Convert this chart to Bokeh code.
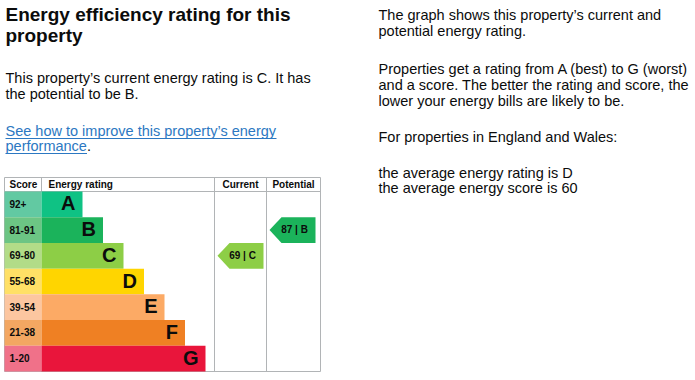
from bokeh.plotting import figure
from bokeh.models import Range1d
from bokeh.core.properties import value
from bokeh.embed import file_html
from bokeh.resources import INLINE

# ---------------- data ----------------
bands = ["A", "B", "C", "D", "E", "F", "G"]
score_ranges = ["92+", "81-91", "69-80", "55-68", "39-54", "21-38", "1-20"]
band_min = [92, 81, 69, 55, 39, 21, 1]
band_colors = ["#0fc284", "#1bb35b", "#8dce46", "#ffd500", "#fcaa65", "#ef8023", "#e9153b"]
score_colors = ["#62c9a2", "#6cc584", "#b2dc88", "#ffe066", "#fcc6a0", "#f3a762", "#f07189"]
current_score = 69
potential_score = 87
column_headers = ["Score", "Energy rating", "Current", "Potential"]

title_lines = ["Energy efficiency rating for this", "property"]
summary_lines = ["This property\u2019s current energy rating is C. It has", "the potential to be B."]
link_lines = ["See how to improve this property\u2019s energy", "performance"]
right_lines = [
    "The graph shows this property\u2019s current and",
    "potential energy rating.",
    "Properties get a rating from A (best) to G (worst)",
    "and a score. The better the rating and score, the",
    "lower your energy bills are likely to be.",
    "For properties in England and Wales:",
    "the average energy rating is D",
    "the average energy score is 60",
]

# ---------------- layout ----------------
W, H = 695, 380
FONT = value("Liberation Sans")
INK = "#0b0c0c"
LINK = "#2c78c2"
GRID = "#b1b4b6"
BASE_FIX = 0.4  # renderer draws alphabetic text slightly low; compensate in em

p = figure(width=W, height=H, x_range=Range1d(0, W), y_range=Range1d(H, 0),
           output_backend="svg", toolbar_location=None, min_border=0,
           x_axis_location=None, y_axis_location=None)
p.xgrid.visible = False
p.ygrid.visible = False
p.outline_line_color = None
p.background_fill_color = "white"
p.border_fill_color = "white"

def txt(xs, ys, texts, size, bold=False, color=INK, align="left"):
    ys = [y - BASE_FIX * size for y in ys]
    p.text(x=xs, y=ys, text=texts, text_font=FONT, text_font_size=value(f"{size}px"),
           text_font_style="bold" if bold else "normal", text_color=color,
           text_align=align, text_baseline="alphabetic")

# left text block
LX = 5
txt([LX] * 2, [22, 43], title_lines, 19, bold=True)
txt([LX] * 2, [83, 99], summary_lines, 14.5)
txt([LX] * 2, [136, 151], link_lines, 14.5, color=LINK)
p.segment(x0=[LX, LX], y0=[138, 153], x1=[276, 86.5], y1=[138, 153], line_color=LINK, line_width=1)
txt([86.5], [151], ["."], 14.5)

# right text block
RX = 378
txt([RX] * len(right_lines), [20, 36, 74, 90, 106, 142, 178, 193], right_lines, 14.5)

# chart geometry
CL, CR = 4, 320
SCORE_R = 41
CUR_L, POT_L = 214, 266
TOP, HDR = 177, 191
BOT = 371
ROW_H = (BOT - HDR) / len(bands)
BAR_BASE, BAR_STEP = 41, 20.5

# grid lines
p.segment(x0=[CL, CL, CL], y0=[TOP, HDR, BOT], x1=[CR, CR, CR], y1=[TOP, HDR, BOT],
          line_color=GRID, line_width=1)
p.segment(x0=[CL, SCORE_R, CUR_L, POT_L, CR], y0=[TOP] * 5,
          x1=[CL, SCORE_R, CUR_L, POT_L, CR], y1=[BOT, HDR, BOT, BOT, BOT],
          line_color=GRID, line_width=1)

# header texts
txt([CL + 5, SCORE_R + 7], [188, 188], column_headers[:2], 10, bold=True)
txt([(CUR_L + POT_L) / 2, (POT_L + CR) / 2], [188, 188], column_headers[2:], 10, bold=True, align="center")

tops = [HDR + i * ROW_H for i in range(len(bands))]
bottoms = [t + ROW_H for t in tops]
mids = [t + ROW_H / 2 for t in tops]
bar_right = [SCORE_R + BAR_BASE + BAR_STEP * i for i in range(len(bands))]

p.quad(left=[CL] * len(bands), right=[SCORE_R] * len(bands), top=tops, bottom=bottoms,
       fill_color=score_colors, line_color=None)
p.quad(left=[SCORE_R] * len(bands), right=bar_right, top=tops, bottom=bottoms,
       fill_color=band_colors, line_color=None)
txt([CL + 5] * len(bands), [m + 3.5 for m in mids], score_ranges, 10, bold=True)
txt([r - 7 for r in bar_right], [m + 7 for m in mids], bands, 20, bold=True, align="right")

# arrows
def band_index(s):
    for i, m in enumerate(band_min):
        if s >= m:
            return i
    return len(band_min) - 1

ARROW_W, TIP = 46, 12
xs, ys, lx, ly, lt, cols = [], [], [], [], [], []
for col_l, s in [(CUR_L, current_score), (POT_L, potential_score)]:
    i = band_index(s)
    x0 = col_l + 3
    xs.append([x0, x0 + TIP, x0 + ARROW_W, x0 + ARROW_W, x0 + TIP])
    ys.append([mids[i], tops[i], tops[i], bottoms[i], bottoms[i]])
    cols.append(band_colors[i])
    lx.append(x0 + ARROW_W / 2 + 2)
    ly.append(mids[i] + 3.5)
    lt.append(f"{s} | {bands[i]}")
p.patches(xs=xs, ys=ys, fill_color=cols, line_color=None)
txt(lx, ly, lt, 10, bold=True, align="center")

open("out.html", "w").write(file_html(p, INLINE))
